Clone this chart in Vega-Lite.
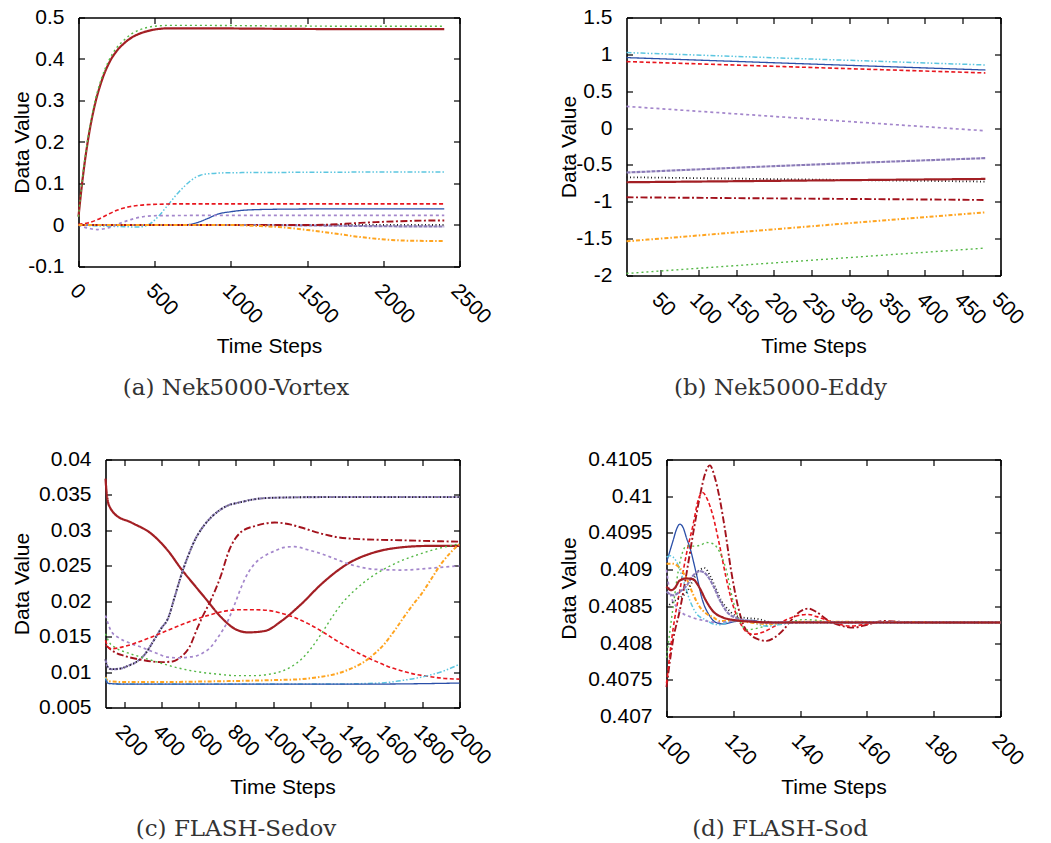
{
  "$schema": "https://vega.github.io/schema/vega-lite/v6.json",
  "background": "white",
  "padding": {"left": 10.5, "top": 6.5, "right": 35, "bottom": 0},
  "columns": 2,
  "bounds": "flush",
  "spacing": {"row": 184, "column": 167},
  "config": {
    "view": {"stroke": null},
    "axis": {"labelFont": "Liberation Sans", "labelFontSize": 21, "labelColor": "#000", "titleFont": "Liberation Sans", "titleFontSize": 21, "titleFontWeight": "normal", "titleColor": "#000", "grid": false, "domain": true, "domainColor": "#000", "domainWidth": 1.6, "tickColor": "#000", "tickSize": -6, "tickWidth": 1.2, "labelPadding": 20.5, "labelOverlap": false, "labelFlush": false, "labelBound": false, "labelExpr": "'' + datum.value"},
    "axisX": {"labelPadding": 19, "labelOffset": 2},
    "title": {"font": "DejaVu Serif", "fontSize": 23, "fontWeight": "normal", "color": "#333", "orient": "bottom", "frame": "group", "anchor": "middle", "offset": 20},
    "line": {"interpolate": "monotone"}
  },
  "datasets": {
    "a": [
      {"s":"L10","t":0,"v":0.02},{"s":"L10","t":25,"v":0.105},{"s":"L10","t":50,"v":0.175},{"s":"L10","t":75,"v":0.232},{"s":"L10","t":100,"v":0.278},{"s":"L10","t":150,"v":0.345},{"s":"L10","t":200,"v":0.39},{"s":"L10","t":250,"v":0.419},{"s":"L10","t":300,"v":0.438},{"s":"L10","t":350,"v":0.452},{"s":"L10","t":400,"v":0.461},{"s":"L10","t":450,"v":0.467},{"s":"L10","t":500,"v":0.471},{"s":"L10","t":600,"v":0.474},{"s":"L10","t":800,"v":0.474},{"s":"L10","t":1200,"v":0.473},{"s":"L10","t":1800,"v":0.472},{"s":"L10","t":2400,"v":0.472},
      {"s":"L02","t":0,"v":0.02},{"s":"L02","t":25,"v":0.11},{"s":"L02","t":50,"v":0.18},{"s":"L02","t":75,"v":0.238},{"s":"L02","t":100,"v":0.285},{"s":"L02","t":150,"v":0.352},{"s":"L02","t":200,"v":0.397},{"s":"L02","t":250,"v":0.427},{"s":"L02","t":300,"v":0.446},{"s":"L02","t":350,"v":0.461},{"s":"L02","t":400,"v":0.47},{"s":"L02","t":450,"v":0.476},{"s":"L02","t":500,"v":0.479},{"s":"L02","t":600,"v":0.481},{"s":"L02","t":800,"v":0.481},{"s":"L02","t":1200,"v":0.48},{"s":"L02","t":1800,"v":0.479},{"s":"L02","t":2400,"v":0.479},
      {"s":"L03","t":0,"v":0},{"s":"L03","t":100,"v":-0.002},{"s":"L03","t":200,"v":-0.003},{"s":"L03","t":300,"v":-0.004},{"s":"L03","t":390,"v":-0.005},{"s":"L03","t":450,"v":-0.001},{"s":"L03","t":520,"v":0.019},{"s":"L03","t":580,"v":0.045},{"s":"L03","t":650,"v":0.076},{"s":"L03","t":700,"v":0.095},{"s":"L03","t":740,"v":0.108},{"s":"L03","t":800,"v":0.12},{"s":"L03","t":870,"v":0.124},{"s":"L03","t":1000,"v":0.126},{"s":"L03","t":1500,"v":0.127},{"s":"L03","t":2400,"v":0.128},
      {"s":"L04","t":0,"v":0.002},{"s":"L04","t":60,"v":0.005},{"s":"L04","t":125,"v":0.013},{"s":"L04","t":190,"v":0.025},{"s":"L04","t":256,"v":0.036},{"s":"L04","t":320,"v":0.043},{"s":"L04","t":387,"v":0.047},{"s":"L04","t":450,"v":0.049},{"s":"L04","t":520,"v":0.05},{"s":"L04","t":700,"v":0.051},{"s":"L04","t":1200,"v":0.051},{"s":"L04","t":2400,"v":0.051},
      {"s":"L01","t":0,"v":0},{"s":"L01","t":300,"v":0},{"s":"L01","t":600,"v":-0.001},{"s":"L01","t":700,"v":0},{"s":"L01","t":780,"v":0.006},{"s":"L01","t":850,"v":0.016},{"s":"L01","t":912,"v":0.026},{"s":"L01","t":1000,"v":0.032},{"s":"L01","t":1100,"v":0.036},{"s":"L01","t":1300,"v":0.038},{"s":"L01","t":1800,"v":0.039},{"s":"L01","t":2400,"v":0.039},
      {"s":"L05","t":0,"v":0},{"s":"L05","t":37,"v":-0.005},{"s":"L05","t":80,"v":-0.009},{"s":"L05","t":125,"v":-0.011},{"s":"L05","t":170,"v":-0.009},{"s":"L05","t":212,"v":-0.005},{"s":"L05","t":278,"v":0.005},{"s":"L05","t":343,"v":0.013},{"s":"L05","t":431,"v":0.0205},{"s":"L05","t":518,"v":0.0225},{"s":"L05","t":800,"v":0.023},{"s":"L05","t":2400,"v":0.023},
      {"s":"L06","t":0,"v":0},{"s":"L06","t":800,"v":0},{"s":"L06","t":1600,"v":0},{"s":"L06","t":2400,"v":0},
      {"s":"L09","t":0,"v":0},{"s":"L09","t":1000,"v":0},{"s":"L09","t":1500,"v":-0.001},{"s":"L09","t":2000,"v":-0.003},{"s":"L09","t":2400,"v":-0.0035},
      {"s":"L07","t":0,"v":0},{"s":"L07","t":1500,"v":0},{"s":"L07","t":1650,"v":0.001},{"s":"L07","t":1800,"v":0.004},{"s":"L07","t":1950,"v":0.007},{"s":"L07","t":2100,"v":0.009},{"s":"L07","t":2250,"v":0.0105},{"s":"L07","t":2400,"v":0.011},
      {"s":"L08","t":0,"v":0},{"s":"L08","t":1000,"v":0},{"s":"L08","t":1150,"v":-0.002},{"s":"L08","t":1352,"v":-0.006},{"s":"L08","t":1500,"v":-0.012},{"s":"L08","t":1680,"v":-0.0205},{"s":"L08","t":1850,"v":-0.029},{"s":"L08","t":2010,"v":-0.035},{"s":"L08","t":2200,"v":-0.038},{"s":"L08","t":2400,"v":-0.0385}
    ],
    "b": [
      {"s":"L03","t":5,"v":1.024},{"s":"L03","t":240,"v":0.94},{"s":"L03","t":480,"v":0.856},
      {"s":"L01","t":5,"v":0.956},{"s":"L01","t":240,"v":0.872},{"s":"L01","t":480,"v":0.788},
      {"s":"L04","t":5,"v":0.902},{"s":"L04","t":240,"v":0.825},{"s":"L04","t":480,"v":0.748},
      {"s":"L05","t":5,"v":0.294},{"s":"L05","t":240,"v":0.13},{"s":"L05","t":480,"v":-0.037},
      {"s":"L09","t":5,"v":-0.603},{"s":"L09","t":240,"v":-0.5},{"s":"L09","t":480,"v":-0.408},
      {"s":"L06","t":5,"v":-0.667},{"s":"L06","t":240,"v":-0.697},{"s":"L06","t":480,"v":-0.726},
      {"s":"L10","t":5,"v":-0.735},{"s":"L10","t":240,"v":-0.712},{"s":"L10","t":480,"v":-0.69},
      {"s":"L07","t":5,"v":-0.939},{"s":"L07","t":240,"v":-0.957},{"s":"L07","t":480,"v":-0.975},
      {"s":"L08","t":5,"v":-1.537},{"s":"L08","t":240,"v":-1.34},{"s":"L08","t":480,"v":-1.143},
      {"s":"L02","t":5,"v":-1.972},{"s":"L02","t":240,"v":-1.8},{"s":"L02","t":480,"v":-1.628}
    ],
    "c": [
      {"s":"L10","t":100,"v":0.0373},{"s":"L10","t":105,"v":0.0356},{"s":"L10","t":115,"v":0.0338},{"s":"L10","t":123,"v":0.0333},{"s":"L10","t":150,"v":0.0323},{"s":"L10","t":239,"v":0.0311},{"s":"L10","t":347,"v":0.0295},{"s":"L10","t":436,"v":0.0271},{"s":"L10","t":508,"v":0.0245},{"s":"L10","t":570,"v":0.0225},{"s":"L10","t":633,"v":0.0205},{"s":"L10","t":722,"v":0.0177},{"s":"L10","t":794,"v":0.0161},{"s":"L10","t":865,"v":0.0156},{"s":"L10","t":955,"v":0.0158},{"s":"L10","t":1044,"v":0.0172},{"s":"L10","t":1151,"v":0.0196},{"s":"L10","t":1258,"v":0.0224},{"s":"L10","t":1401,"v":0.0253},{"s":"L10","t":1544,"v":0.0269},{"s":"L10","t":1687,"v":0.0276},{"s":"L10","t":1830,"v":0.0278},{"s":"L10","t":2000,"v":0.0278},
      {"s":"L09","t":100,"v":0.0118},{"s":"L09","t":110,"v":0.0108},{"s":"L09","t":132,"v":0.0104},{"s":"L09","t":180,"v":0.0105},{"s":"L09","t":222,"v":0.0109},{"s":"L09","t":270,"v":0.0115},{"s":"L09","t":311,"v":0.0125},{"s":"L09","t":360,"v":0.0145},{"s":"L09","t":400,"v":0.0162},{"s":"L09","t":436,"v":0.0176},{"s":"L09","t":470,"v":0.0205},{"s":"L09","t":508,"v":0.0238},{"s":"L09","t":545,"v":0.0265},{"s":"L09","t":579,"v":0.0286},{"s":"L09","t":615,"v":0.0302},{"s":"L09","t":651,"v":0.0314},{"s":"L09","t":700,"v":0.0326},{"s":"L09","t":740,"v":0.0333},{"s":"L09","t":829,"v":0.034},{"s":"L09","t":900,"v":0.0344},{"s":"L09","t":1000,"v":0.0346},{"s":"L09","t":1300,"v":0.0347},{"s":"L09","t":2000,"v":0.0347},
      {"s":"L06","t":100,"v":0.0118},{"s":"L06","t":110,"v":0.0108},{"s":"L06","t":132,"v":0.0104},{"s":"L06","t":180,"v":0.0105},{"s":"L06","t":222,"v":0.0109},{"s":"L06","t":270,"v":0.0115},{"s":"L06","t":311,"v":0.0125},{"s":"L06","t":360,"v":0.0145},{"s":"L06","t":400,"v":0.0162},{"s":"L06","t":436,"v":0.0176},{"s":"L06","t":470,"v":0.0205},{"s":"L06","t":508,"v":0.0238},{"s":"L06","t":545,"v":0.0265},{"s":"L06","t":579,"v":0.0286},{"s":"L06","t":615,"v":0.0302},{"s":"L06","t":651,"v":0.0314},{"s":"L06","t":700,"v":0.0326},{"s":"L06","t":740,"v":0.0333},{"s":"L06","t":829,"v":0.034},{"s":"L06","t":900,"v":0.0344},{"s":"L06","t":1000,"v":0.0346},{"s":"L06","t":1300,"v":0.0347},{"s":"L06","t":2000,"v":0.0347},
      {"s":"L07","t":100,"v":0.0138},{"s":"L07","t":150,"v":0.0128},{"s":"L07","t":200,"v":0.0123},{"s":"L07","t":300,"v":0.0117},{"s":"L07","t":400,"v":0.0114},{"s":"L07","t":460,"v":0.0115},{"s":"L07","t":508,"v":0.0122},{"s":"L07","t":550,"v":0.0135},{"s":"L07","t":590,"v":0.016},{"s":"L07","t":615,"v":0.0175},{"s":"L07","t":668,"v":0.0203},{"s":"L07","t":722,"v":0.0238},{"s":"L07","t":758,"v":0.0268},{"s":"L07","t":829,"v":0.0298},{"s":"L07","t":901,"v":0.0306},{"s":"L07","t":1008,"v":0.0311},{"s":"L07","t":1080,"v":0.0309},{"s":"L07","t":1151,"v":0.0304},{"s":"L07","t":1250,"v":0.0296},{"s":"L07","t":1330,"v":0.0291},{"s":"L07","t":1437,"v":0.0288},{"s":"L07","t":1687,"v":0.0286},{"s":"L07","t":2000,"v":0.0284},
      {"s":"L05","t":100,"v":0.018},{"s":"L05","t":130,"v":0.0158},{"s":"L05","t":168,"v":0.0149},{"s":"L05","t":230,"v":0.0141},{"s":"L05","t":293,"v":0.0135},{"s":"L05","t":370,"v":0.0127},{"s":"L05","t":436,"v":0.0121},{"s":"L05","t":500,"v":0.012},{"s":"L05","t":543,"v":0.0121},{"s":"L05","t":590,"v":0.0123},{"s":"L05","t":615,"v":0.0126},{"s":"L05","t":660,"v":0.0134},{"s":"L05","t":704,"v":0.0149},{"s":"L05","t":758,"v":0.0173},{"s":"L05","t":794,"v":0.0196},{"s":"L05","t":829,"v":0.022},{"s":"L05","t":870,"v":0.0242},{"s":"L05","t":901,"v":0.0253},{"s":"L05","t":960,"v":0.0265},{"s":"L05","t":1008,"v":0.0271},{"s":"L05","t":1060,"v":0.0276},{"s":"L05","t":1115,"v":0.0277},{"s":"L05","t":1180,"v":0.0273},{"s":"L05","t":1258,"v":0.0267},{"s":"L05","t":1330,"v":0.026},{"s":"L05","t":1401,"v":0.0253},{"s":"L05","t":1470,"v":0.0248},{"s":"L05","t":1544,"v":0.0245},{"s":"L05","t":1687,"v":0.0244},{"s":"L05","t":1866,"v":0.0247},{"s":"L05","t":2000,"v":0.025},
      {"s":"L02","t":100,"v":0.0154},{"s":"L02","t":120,"v":0.0142},{"s":"L02","t":150,"v":0.0135},{"s":"L02","t":220,"v":0.0127},{"s":"L02","t":293,"v":0.0121},{"s":"L02","t":380,"v":0.0114},{"s":"L02","t":472,"v":0.0107},{"s":"L02","t":580,"v":0.0101},{"s":"L02","t":704,"v":0.0097},{"s":"L02","t":800,"v":0.0095},{"s":"L02","t":901,"v":0.0095},{"s":"L02","t":980,"v":0.0097},{"s":"L02","t":1044,"v":0.0101},{"s":"L02","t":1100,"v":0.0108},{"s":"L02","t":1151,"v":0.0118},{"s":"L02","t":1205,"v":0.0134},{"s":"L02","t":1258,"v":0.0154},{"s":"L02","t":1310,"v":0.0175},{"s":"L02","t":1366,"v":0.0196},{"s":"L02","t":1440,"v":0.0216},{"s":"L02","t":1509,"v":0.0231},{"s":"L02","t":1600,"v":0.0246},{"s":"L02","t":1687,"v":0.0257},{"s":"L02","t":1780,"v":0.0266},{"s":"L02","t":1866,"v":0.0273},{"s":"L02","t":2000,"v":0.0281},
      {"s":"L04","t":100,"v":0.0145},{"s":"L04","t":115,"v":0.0135},{"s":"L04","t":132,"v":0.0133},{"s":"L04","t":200,"v":0.0136},{"s":"L04","t":293,"v":0.0144},{"s":"L04","t":380,"v":0.0153},{"s":"L04","t":472,"v":0.0163},{"s":"L04","t":560,"v":0.0172},{"s":"L04","t":651,"v":0.018},{"s":"L04","t":740,"v":0.0186},{"s":"L04","t":829,"v":0.0188},{"s":"L04","t":900,"v":0.0188},{"s":"L04","t":972,"v":0.0187},{"s":"L04","t":1044,"v":0.0183},{"s":"L04","t":1115,"v":0.0177},{"s":"L04","t":1190,"v":0.0168},{"s":"L04","t":1258,"v":0.0158},{"s":"L04","t":1330,"v":0.0146},{"s":"L04","t":1401,"v":0.0135},{"s":"L04","t":1470,"v":0.0125},{"s":"L04","t":1544,"v":0.0116},{"s":"L04","t":1615,"v":0.0108},{"s":"L04","t":1687,"v":0.0102},{"s":"L04","t":1760,"v":0.0097},{"s":"L04","t":1830,"v":0.0094},{"s":"L04","t":1920,"v":0.0091},{"s":"L04","t":2000,"v":0.009},
      {"s":"L08","t":100,"v":0.0093},{"s":"L08","t":115,"v":0.0087},{"s":"L08","t":200,"v":0.0086},{"s":"L08","t":400,"v":0.0086},{"s":"L08","t":700,"v":0.0087},{"s":"L08","t":900,"v":0.0088},{"s":"L08","t":1050,"v":0.0089},{"s":"L08","t":1151,"v":0.009},{"s":"L08","t":1250,"v":0.0093},{"s":"L08","t":1330,"v":0.0097},{"s":"L08","t":1400,"v":0.0103},{"s":"L08","t":1473,"v":0.0112},{"s":"L08","t":1540,"v":0.0125},{"s":"L08","t":1598,"v":0.014},{"s":"L08","t":1650,"v":0.0158},{"s":"L08","t":1700,"v":0.0177},{"s":"L08","t":1750,"v":0.0195},{"s":"L08","t":1795,"v":0.021},{"s":"L08","t":1850,"v":0.0232},{"s":"L08","t":1902,"v":0.0253},{"s":"L08","t":1950,"v":0.0268},{"s":"L08","t":2000,"v":0.0281},
      {"s":"L03","t":100,"v":0.0092},{"s":"L03","t":115,"v":0.0084},{"s":"L03","t":200,"v":0.0083},{"s":"L03","t":800,"v":0.0083},{"s":"L03","t":1300,"v":0.0083},{"s":"L03","t":1509,"v":0.0084},{"s":"L03","t":1600,"v":0.0085},{"s":"L03","t":1687,"v":0.0088},{"s":"L03","t":1760,"v":0.0091},{"s":"L03","t":1830,"v":0.0095},{"s":"L03","t":1920,"v":0.0102},{"s":"L03","t":2000,"v":0.0111},
      {"s":"L01","t":100,"v":0.009},{"s":"L01","t":115,"v":0.0084},{"s":"L01","t":200,"v":0.0083},{"s":"L01","t":1000,"v":0.0083},{"s":"L01","t":1500,"v":0.0083},{"s":"L01","t":2000,"v":0.00845}
    ],
    "d": [
      {"s":"L01","t":100,"v":0.4091},{"s":"L01","t":101,"v":0.40925},{"s":"L01","t":102,"v":0.4094},{"s":"L01","t":103,"v":0.40955},{"s":"L01","t":104,"v":0.40962},{"s":"L01","t":105,"v":0.40957},{"s":"L01","t":106,"v":0.40943},{"s":"L01","t":107,"v":0.4093},{"s":"L01","t":108.8,"v":0.40897},{"s":"L01","t":110.8,"v":0.40858},{"s":"L01","t":112.8,"v":0.40838},{"s":"L01","t":114.8,"v":0.40828},{"s":"L01","t":117,"v":0.40826},{"s":"L01","t":120,"v":0.40829},{"s":"L01","t":125,"v":0.40831},{"s":"L01","t":130,"v":0.40828},{"s":"L01","t":140,"v":0.40829},{"s":"L01","t":150,"v":0.40828},{"s":"L01","t":200,"v":0.40828},
      {"s":"L07","t":100,"v":0.4074},{"s":"L07","t":102,"v":0.40805},{"s":"L07","t":104,"v":0.40845},{"s":"L07","t":106,"v":0.40895},{"s":"L07","t":108,"v":0.4095},{"s":"L07","t":110,"v":0.41},{"s":"L07","t":111.5,"v":0.4103},{"s":"L07","t":113,"v":0.41042},{"s":"L07","t":114.5,"v":0.41025},{"s":"L07","t":116,"v":0.40995},{"s":"L07","t":117.5,"v":0.40955},{"s":"L07","t":119.3,"v":0.409},{"s":"L07","t":121.3,"v":0.40852},{"s":"L07","t":123,"v":0.40825},{"s":"L07","t":125,"v":0.40812},{"s":"L07","t":127.5,"v":0.40805},{"s":"L07","t":130,"v":0.40803},{"s":"L07","t":132.5,"v":0.40808},{"s":"L07","t":135,"v":0.40818},{"s":"L07","t":137.5,"v":0.40832},{"s":"L07","t":140,"v":0.40843},{"s":"L07","t":142.5,"v":0.40847},{"s":"L07","t":145,"v":0.40842},{"s":"L07","t":148,"v":0.40832},{"s":"L07","t":152,"v":0.40824},{"s":"L07","t":156,"v":0.40821},{"s":"L07","t":160,"v":0.40825},{"s":"L07","t":165,"v":0.4083},{"s":"L07","t":170,"v":0.40829},{"s":"L07","t":180,"v":0.40828},{"s":"L07","t":200,"v":0.40828},
      {"s":"L04","t":100,"v":0.40745},{"s":"L04","t":102,"v":0.4082},{"s":"L04","t":104,"v":0.40872},{"s":"L04","t":106,"v":0.40922},{"s":"L04","t":108,"v":0.40962},{"s":"L04","t":109.5,"v":0.40995},{"s":"L04","t":110.8,"v":0.41005},{"s":"L04","t":112.3,"v":0.40995},{"s":"L04","t":113.8,"v":0.40975},{"s":"L04","t":115.8,"v":0.40935},{"s":"L04","t":117.8,"v":0.4089},{"s":"L04","t":119.8,"v":0.40853},{"s":"L04","t":121.8,"v":0.4083},{"s":"L04","t":124,"v":0.40815},{"s":"L04","t":126,"v":0.40812},{"s":"L04","t":129,"v":0.40815},{"s":"L04","t":132,"v":0.40822},{"s":"L04","t":136,"v":0.40832},{"s":"L04","t":140,"v":0.40838},{"s":"L04","t":142.5,"v":0.40839},{"s":"L04","t":145,"v":0.40836},{"s":"L04","t":150,"v":0.40828},{"s":"L04","t":155,"v":0.40823},{"s":"L04","t":160,"v":0.40826},{"s":"L04","t":165,"v":0.40829},{"s":"L04","t":170,"v":0.40828},{"s":"L04","t":200,"v":0.40828},
      {"s":"L02","t":100,"v":0.4078},{"s":"L02","t":102,"v":0.4085},{"s":"L02","t":104,"v":0.4091},{"s":"L02","t":106,"v":0.40932},{"s":"L02","t":108,"v":0.40932},{"s":"L02","t":110,"v":0.40933},{"s":"L02","t":112,"v":0.40937},{"s":"L02","t":114,"v":0.40935},{"s":"L02","t":115.8,"v":0.40925},{"s":"L02","t":117.8,"v":0.40901},{"s":"L02","t":119.8,"v":0.4086},{"s":"L02","t":121.8,"v":0.40832},{"s":"L02","t":124,"v":0.40818},{"s":"L02","t":127,"v":0.4082},{"s":"L02","t":131,"v":0.40825},{"s":"L02","t":136,"v":0.40828},{"s":"L02","t":141,"v":0.40832},{"s":"L02","t":145,"v":0.40831},{"s":"L02","t":150,"v":0.40828},{"s":"L02","t":200,"v":0.40828},
      {"s":"L03","t":100,"v":0.40917},{"s":"L03","t":101,"v":0.40919},{"s":"L03","t":103,"v":0.40911},{"s":"L03","t":105,"v":0.40886},{"s":"L03","t":107,"v":0.40858},{"s":"L03","t":109,"v":0.4084},{"s":"L03","t":112,"v":0.40831},{"s":"L03","t":114,"v":0.40826},{"s":"L03","t":116,"v":0.40825},{"s":"L03","t":120,"v":0.40831},{"s":"L03","t":125,"v":0.40829},{"s":"L03","t":130,"v":0.40823},{"s":"L03","t":135,"v":0.40826},{"s":"L03","t":140,"v":0.40829},{"s":"L03","t":150,"v":0.40828},{"s":"L03","t":200,"v":0.40828},
      {"s":"L08","t":100,"v":0.40908},{"s":"L08","t":102,"v":0.40908},{"s":"L08","t":104,"v":0.40902},{"s":"L08","t":106,"v":0.40888},{"s":"L08","t":108,"v":0.40866},{"s":"L08","t":110,"v":0.40849},{"s":"L08","t":112,"v":0.4084},{"s":"L08","t":114,"v":0.40835},{"s":"L08","t":116,"v":0.4083},{"s":"L08","t":120,"v":0.40831},{"s":"L08","t":125,"v":0.40828},{"s":"L08","t":130,"v":0.40826},{"s":"L08","t":140,"v":0.40829},{"s":"L08","t":200,"v":0.40828},
      {"s":"L05","t":100,"v":0.409},{"s":"L05","t":101,"v":0.4087},{"s":"L05","t":103,"v":0.40849},{"s":"L05","t":105,"v":0.4084},{"s":"L05","t":107,"v":0.40836},{"s":"L05","t":109,"v":0.40833},{"s":"L05","t":112,"v":0.4083},{"s":"L05","t":115,"v":0.40828},{"s":"L05","t":118,"v":0.40829},{"s":"L05","t":122,"v":0.40831},{"s":"L05","t":128,"v":0.40828},{"s":"L05","t":135,"v":0.40827},{"s":"L05","t":145,"v":0.40829},{"s":"L05","t":200,"v":0.40828},
      {"s":"L06","t":100,"v":0.40849},{"s":"L06","t":102,"v":0.40856},{"s":"L06","t":104,"v":0.40862},{"s":"L06","t":106,"v":0.40869},{"s":"L06","t":108,"v":0.40886},{"s":"L06","t":110,"v":0.409},{"s":"L06","t":111.5,"v":0.40902},{"s":"L06","t":113,"v":0.40892},{"s":"L06","t":114.8,"v":0.40874},{"s":"L06","t":116.5,"v":0.40857},{"s":"L06","t":118,"v":0.40848},{"s":"L06","t":120.8,"v":0.40837},{"s":"L06","t":124,"v":0.40834},{"s":"L06","t":127,"v":0.40833},{"s":"L06","t":132,"v":0.40828},{"s":"L06","t":140,"v":0.40828},{"s":"L06","t":200,"v":0.40828},
      {"s":"L09","t":100,"v":0.4087},{"s":"L09","t":102,"v":0.40865},{"s":"L09","t":104,"v":0.4087},{"s":"L09","t":106,"v":0.40878},{"s":"L09","t":108,"v":0.40892},{"s":"L09","t":110,"v":0.40898},{"s":"L09","t":112,"v":0.40893},{"s":"L09","t":114,"v":0.40878},{"s":"L09","t":116,"v":0.40858},{"s":"L09","t":118,"v":0.40843},{"s":"L09","t":121,"v":0.40834},{"s":"L09","t":125,"v":0.4083},{"s":"L09","t":130,"v":0.40828},{"s":"L09","t":200,"v":0.40828},
      {"s":"L10","t":100,"v":0.40877},{"s":"L10","t":101.4,"v":0.40872},{"s":"L10","t":102.5,"v":0.40875},{"s":"L10","t":103.9,"v":0.40885},{"s":"L10","t":105.9,"v":0.40888},{"s":"L10","t":107.9,"v":0.40887},{"s":"L10","t":109.8,"v":0.40876},{"s":"L10","t":111.8,"v":0.40858},{"s":"L10","t":113.8,"v":0.40844},{"s":"L10","t":116.8,"v":0.40835},{"s":"L10","t":120.8,"v":0.40831},{"s":"L10","t":126,"v":0.40829},{"s":"L10","t":133,"v":0.40828},{"s":"L10","t":200,"v":0.40828}
    ]
  },
  "concat": [
    {
      "width": 381, "height": 249,
      "title": {"text": "(a) Nek5000-Vortex", "dx": -33},
      "data": {"name": "a"},
      "layer": [
        {
          "mark": {"type": "line", "interpolate": "monotone"},
          "encoding": {
            "x": {"field": "t", "type": "quantitative", "scale": {"domain": [0, 2500], "nice": false, "zero": false}, "axis": {"orient": "bottom", "values": [0, 500, 1000, 1500, 2000, 2500], "labelAngle": 45, "labelAlign": "left", "labelBaseline": "top", "title": "Time Steps", "titleY": 69, "titleBaseline": "top"}},
            "y": {"field": "v", "type": "quantitative", "scale": {"domain": [-0.1, 0.5], "nice": false, "zero": false}, "axis": {"orient": "left", "values": [-0.1, 0, 0.1, 0.2, 0.3, 0.4, 0.5], "title": "Data Value", "titleX": -56, "titleBaseline": "middle"}},
            "color": {"field": "s", "type": "nominal", "legend": null, "scale": {"domain": ["L01","L02","L03","L04","L05","L06","L07","L08","L09","L10"], "range": ["#2a4fa8","#55b847","#5cc6e0","#e8161e","#a487cc","#202020","#a3121c","#ffa41f","#8b7bb8","#a31f24"]}},
            "strokeDash": {"field": "s", "type": "nominal", "legend": null, "scale": {"domain": ["L01","L02","L03","L04","L05","L06","L07","L08","L09","L10"], "range": [[1,0],[2,3],[5,2,1.5,2,1.5,2],[4,2.5],[3,3],[1,2.5],[7,2.5,2,2.5],[4,2,1.5,2],[4,1],[1,0]]}},
            "strokeWidth": {"field": "s", "type": "ordinal", "legend": null, "scale": {"domain": ["L01","L02","L03","L04","L05","L06","L07","L08","L09","L10"], "range": [1.3,2.2,1.8,2.4,1.8,1.4,2,1.8,1.7,2.4]}}
          }
        },
        {
          "mark": {"type": "point", "opacity": 0},
          "encoding": {
            "x": {"field": "t", "type": "quantitative", "scale": {"domain": [0, 2500], "nice": false, "zero": false}, "axis": {"orient": "top", "values": [0, 500, 1000, 1500, 2000, 2500], "labels": false, "title": null}},
            "y": {"field": "v", "type": "quantitative", "scale": {"domain": [-0.1, 0.5], "nice": false, "zero": false}, "axis": {"orient": "right", "values": [-0.1, 0, 0.1, 0.2, 0.3, 0.4, 0.5], "labels": false, "title": null}}
          }
        }
      ]
    },
    {
      "width": 374, "height": 258,
      "title": {"text": "(b) Nek5000-Eddy", "dx": -33},
      "data": {"name": "b"},
      "layer": [
        {
          "mark": {"type": "line", "interpolate": "monotone"},
          "encoding": {
            "x": {"field": "t", "type": "quantitative", "scale": {"domain": [5, 500], "nice": false, "zero": false}, "axis": {"orient": "bottom", "values": [50, 100, 150, 200, 250, 300, 350, 400, 450, 500], "labelAngle": 45, "labelAlign": "left", "labelBaseline": "top", "title": "Time Steps", "titleY": 60, "titleBaseline": "top"}},
            "y": {"field": "v", "type": "quantitative", "scale": {"domain": [-2, 1.5], "nice": false, "zero": false}, "axis": {"orient": "left", "values": [-2, -1.5, -1, -0.5, 0, 0.5, 1, 1.5], "title": "Data Value", "titleX": -56.7, "titleBaseline": "middle"}},
            "color": {"field": "s", "type": "nominal", "legend": null, "scale": {"domain": ["L01","L02","L03","L04","L05","L06","L07","L08","L09","L10"], "range": ["#2a4fa8","#55b847","#5cc6e0","#e8161e","#a487cc","#202020","#a3121c","#ffa41f","#8b7bb8","#a31f24"]}},
            "strokeDash": {"field": "s", "type": "nominal", "legend": null, "scale": {"domain": ["L01","L02","L03","L04","L05","L06","L07","L08","L09","L10"], "range": [[1,0],[2,3],[5,2,1.5,2,1.5,2],[4,2.5],[3,3],[1,2.5],[7,2.5,2,2.5],[4,2,1.5,2],[4,1],[1,0]]}},
            "strokeWidth": {"field": "s", "type": "ordinal", "legend": null, "scale": {"domain": ["L01","L02","L03","L04","L05","L06","L07","L08","L09","L10"], "range": [1.3,2.2,1.8,2.4,1.8,1.4,2,1.8,1.7,2.4]}}
          }
        },
        {
          "mark": {"type": "point", "opacity": 0},
          "encoding": {
            "x": {"field": "t", "type": "quantitative", "scale": {"domain": [5, 500], "nice": false, "zero": false}, "axis": {"orient": "top", "values": [50, 100, 150, 200, 250, 300, 350, 400, 450, 500], "labels": false, "title": null}},
            "y": {"field": "v", "type": "quantitative", "scale": {"domain": [-2, 1.5], "nice": false, "zero": false}, "axis": {"orient": "right", "values": [-2, -1.5, -1, -0.5, 0, 0.5, 1, 1.5], "labels": false, "title": null}}
          }
        }
      ]
    },
    {
      "width": 381, "height": 248,
      "title": {"text": "(c) FLASH-Sedov", "dx": -33},
      "data": {"name": "c"},
      "layer": [
        {
          "mark": {"type": "line", "interpolate": "monotone"},
          "encoding": {
            "x": {"field": "t", "type": "quantitative", "scale": {"domain": [100, 2000], "range": [27, 381], "nice": false, "zero": false}, "axis": {"orient": "bottom", "values": [200, 400, 600, 800, 1000, 1200, 1400, 1600, 1800, 2000], "labelAngle": 45, "labelAlign": "left", "labelBaseline": "top", "title": "Time Steps", "titleY": 69, "titleBaseline": "top"}},
            "y": {"field": "v", "type": "quantitative", "scale": {"domain": [0.005, 0.04], "nice": false, "zero": false}, "axis": {"orient": "left", "offset": -27, "values": [0.005, 0.01, 0.015, 0.02, 0.025, 0.03, 0.035, 0.04], "title": "Data Value", "titleX": -83.2, "titleBaseline": "middle"}},
            "color": {"field": "s", "type": "nominal", "legend": null, "scale": {"domain": ["L01","L02","L03","L04","L05","L06","L07","L08","L09","L10"], "range": ["#2a4fa8","#55b847","#5cc6e0","#e8161e","#a487cc","#202020","#a3121c","#ffa41f","#8b7bb8","#a31f24"]}},
            "strokeDash": {"field": "s", "type": "nominal", "legend": null, "scale": {"domain": ["L01","L02","L03","L04","L05","L06","L07","L08","L09","L10"], "range": [[1,0],[2,3],[5,2,1.5,2,1.5,2],[4,2.5],[3,3],[1,2.5],[7,2.5,2,2.5],[4,2,1.5,2],[4,1],[1,0]]}},
            "strokeWidth": {"field": "s", "type": "ordinal", "legend": null, "scale": {"domain": ["L01","L02","L03","L04","L05","L06","L07","L08","L09","L10"], "range": [1.3,2.2,1.8,2.4,1.8,1.4,2,1.8,1.7,2.4]}}
          }
        },
        {
          "mark": {"type": "point", "opacity": 0},
          "encoding": {
            "x": {"field": "t", "type": "quantitative", "scale": {"domain": [100, 2000], "range": [27, 381], "nice": false, "zero": false}, "axis": {"orient": "top", "values": [200, 400, 600, 800, 1000, 1200, 1400, 1600, 1800, 2000], "labels": false, "title": null}},
            "y": {"field": "v", "type": "quantitative", "scale": {"domain": [0.005, 0.04], "nice": false, "zero": false}, "axis": {"orient": "right", "values": [0.005, 0.01, 0.015, 0.02, 0.025, 0.03, 0.035, 0.04], "labels": false, "title": null}}
          }
        }
      ]
    },
    {
      "width": 374, "height": 257,
      "title": {"text": "(d) FLASH-Sod", "dx": -33.5},
      "data": {"name": "d"},
      "layer": [
        {
          "mark": {"type": "line", "interpolate": "monotone"},
          "encoding": {
            "x": {"field": "t", "type": "quantitative", "scale": {"domain": [100, 200], "range": [40, 374], "nice": false, "zero": false}, "axis": {"orient": "bottom", "values": [100, 120, 140, 160, 180, 200], "labelAngle": 45, "labelAlign": "left", "labelBaseline": "top", "title": "Time Steps", "titleY": 60, "titleBaseline": "top"}},
            "y": {"field": "v", "type": "quantitative", "scale": {"domain": [0.407, 0.4105], "nice": false, "zero": false}, "axis": {"orient": "left", "offset": -40, "values": [0.407, 0.4075, 0.408, 0.4085, 0.409, 0.4095, 0.41, 0.4105], "title": "Data Value", "titleX": -96.7, "titleBaseline": "middle"}},
            "color": {"field": "s", "type": "nominal", "legend": null, "scale": {"domain": ["L01","L02","L03","L04","L05","L06","L07","L08","L09","L10"], "range": ["#2a4fa8","#55b847","#5cc6e0","#e8161e","#a487cc","#202020","#a3121c","#ffa41f","#8b7bb8","#a31f24"]}},
            "strokeDash": {"field": "s", "type": "nominal", "legend": null, "scale": {"domain": ["L01","L02","L03","L04","L05","L06","L07","L08","L09","L10"], "range": [[1,0],[2,3],[5,2,1.5,2,1.5,2],[4,2.5],[3,3],[1,2.5],[7,2.5,2,2.5],[4,2,1.5,2],[4,1],[1,0]]}},
            "strokeWidth": {"field": "s", "type": "ordinal", "legend": null, "scale": {"domain": ["L01","L02","L03","L04","L05","L06","L07","L08","L09","L10"], "range": [1.3,2.2,1.8,2.4,1.8,1.4,2,1.8,1.7,2.4]}}
          }
        },
        {
          "mark": {"type": "point", "opacity": 0},
          "encoding": {
            "x": {"field": "t", "type": "quantitative", "scale": {"domain": [100, 200], "range": [40, 374], "nice": false, "zero": false}, "axis": {"orient": "top", "values": [100, 120, 140, 160, 180, 200], "labels": false, "title": null}},
            "y": {"field": "v", "type": "quantitative", "scale": {"domain": [0.407, 0.4105], "nice": false, "zero": false}, "axis": {"orient": "right", "values": [0.407, 0.4075, 0.408, 0.4085, 0.409, 0.4095, 0.41, 0.4105], "labels": false, "title": null}}
          }
        }
      ]
    }
  ]
}
